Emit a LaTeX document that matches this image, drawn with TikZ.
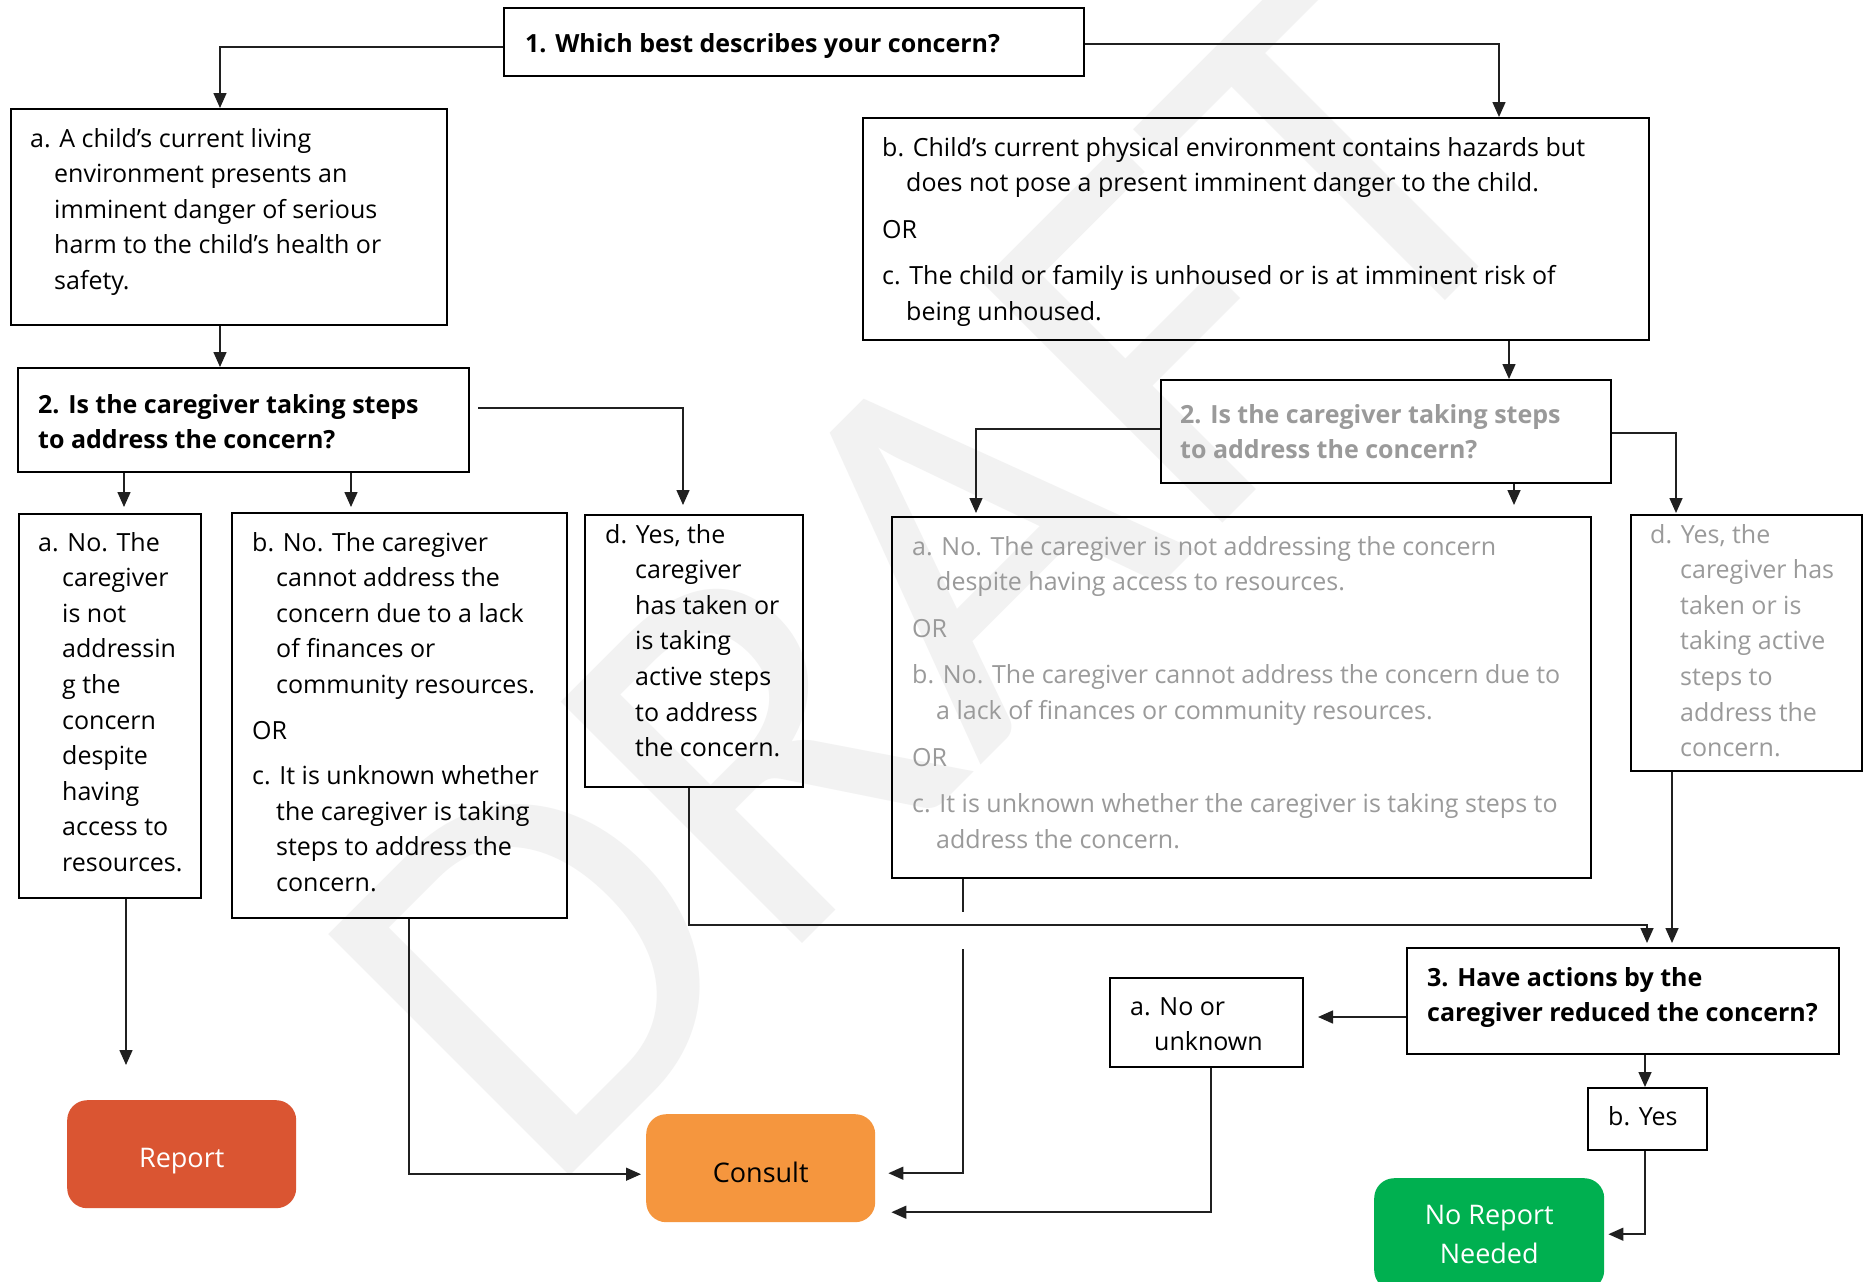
\documentclass[tikz,border=0pt]{standalone}
\usepackage{fontspec}
\setmainfont{Open Sans}
\newfontfamily\wmfont{Carlito}
\usetikzlibrary{arrows.meta}
\definecolor{wmgray}{HTML}{F2F2F2}
\definecolor{fadetext}{HTML}{9A9A9A}
\definecolor{reportfill}{HTML}{DA5532}
\definecolor{consultfill}{HTML}{F5963E}
\definecolor{okfill}{HTML}{00B050}
\definecolor{linkgray}{HTML}{202020}
\newcommand\hng{\hspace*{24pt}}
\newcommand\hngw{\hspace*{30pt}}
\newcommand\bodyfont{\fontsize{25}{35.6}\selectfont}
\newcommand\outfont{\fontsize{27}{39}\selectfont}
\tikzset{
  box/.style={draw=black, line width=2pt, inner sep=0pt, anchor=north west},
  outbox/.style={rounded corners=20pt, inner sep=0pt, anchor=north west,
    minimum width=229pt, minimum height=108pt},
  outtxt/.style={inner sep=0pt, font=\outfont, align=center},
  txt/.style={anchor=north west, inner sep=0pt, align=left, font=\bodyfont},
  conn/.style={draw=linkgray, line width=1.5pt, -{Triangle[length=15pt,width=13pt]}},
}
\begin{document}
\begin{tikzpicture}[x=1pt, y=-1pt]
\useasboundingbox (0,0) rectangle (1866,1282);
\fill[white] (0,0) rectangle (1866,1282);
\clip (0,0) rectangle (1866,1282);

% watermark
\node[rotate=45, anchor=base west, inner sep=0pt, text=wmgray] (wm) at (544,1202)
  {\wmfont\fontsize{532}{532}\selectfont DRAFT};

% question and answer boxes
\node[box, minimum width=580pt, minimum height=68pt] (B1) at (503,7) {};
\node[box, minimum width=436pt, minimum height=216pt] (BA) at (10,108) {};
\node[box, minimum width=786pt, minimum height=222pt] (BBC) at (862,117) {};
\node[box, minimum width=451pt, minimum height=104pt] (B2L) at (17,367) {};
\node[box, minimum width=450pt, minimum height=103pt] (B2R) at (1160,379) {};
\node[box, minimum width=182pt, minimum height=384pt] (B3a) at (18,513) {};
\node[box, minimum width=335pt, minimum height=405pt] (B3b) at (231,512) {};
\node[box, minimum width=218pt, minimum height=272pt] (B3d) at (584,514) {};
\node[box, minimum width=699pt, minimum height=361pt] (GA) at (891,516) {};
\node[box, minimum width=231pt, minimum height=256pt] (GD) at (1630,514) {};
\node[box, minimum width=432pt, minimum height=106pt] (B3) at (1406,947) {};
\node[box, minimum width=193pt, minimum height=89pt] (NU) at (1109,977) {};
\node[box, minimum width=119pt, minimum height=62pt] (YES) at (1587,1087) {};

% outcomes
\node[outbox, fill=reportfill] (REP) at (67,1100) {};
\node[outbox, fill=consultfill] (CON) at (646,1114) {};
\node[outbox, fill=okfill, minimum width=230pt, minimum height=112pt] (NRN) at (1374,1178) {};
\node[outtxt, text=white] (tREP) at ([yshift=-7pt]REP.center) {Report};
\node[outtxt, text=black] (tCON) at ([yshift=-4pt]CON.center) {Consult};
\node[outtxt, text=white] (tNRN) at (NRN.center) {No Report\\Needed};

% texts
\node[txt, font=\bodyfont\bfseries] (tB1) at (525,27) {\strut 1. Which best describes your concern?};
\node[txt] (tBA) at (30,122) {\strut a. A child’s current living\\
  \hng environment presents an\\
  \hng imminent danger of serious\\
  \hng harm to the child’s health or\\
  \hng safety.};
\node[txt] (tBC) at (882,131) {\strut b. Child’s current physical environment contains hazards but\\
  \hng does not pose a present imminent danger to the child.\\[11pt]
  OR\\[11pt]
  c. The child or family is unhoused or is at imminent risk of\\
  \hng being unhoused.};
\node[txt, font=\bodyfont\bfseries] (tB2L) at (38,388) {\strut 2. Is the caregiver taking steps\\
  to address the concern?};
\node[txt, font=\bodyfont\bfseries, text=fadetext] (tB2R) at (1180,398) {\strut 2. Is the caregiver taking steps\\
  to address the concern?};
\node[txt] (tB3a) at (38,526) {\strut a. No. The\\
  \hng caregiver\\
  \hng is not\\
  \hng addressin\\
  \hng g the\\
  \hng concern\\
  \hng despite\\
  \hng having\\
  \hng access to\\
  \hng resources.};
\node[txt] (tB3b) at (252,526) {\strut b. No. The caregiver\\
  \hng cannot address the\\
  \hng concern due to a lack\\
  \hng of finances or\\
  \hng community resources.\\[10pt]
  OR\\[10pt]
  c. It is unknown whether\\
  \hng the caregiver is taking\\
  \hng steps to address the\\
  \hng concern.};
\node[txt] (tB3d) at (605,518) {\strut d. Yes, the\\
  \hngw caregiver\\
  \hngw has taken or\\
  \hngw is taking\\
  \hngw active steps\\
  \hngw to address\\
  \hngw the concern.};
\node[txt, text=fadetext] (tGA) at (912,530) {\strut a. No. The caregiver is not addressing the concern\\
  \hng despite having access to resources.\\[11pt]
  OR\\[11pt]
  b. No. The caregiver cannot address the concern due to\\
  \hng a lack of finances or community resources.\\[11pt]
  OR\\[11pt]
  c. It is unknown whether the caregiver is taking steps to\\
  \hng address the concern.};
\node[txt, text=fadetext] (tGD) at (1650,518) {\strut d. Yes, the\\
  \hngw caregiver has\\
  \hngw taken or is\\
  \hngw taking active\\
  \hngw steps to\\
  \hngw address the\\
  \hngw concern.};
\node[txt, font=\bodyfont\bfseries] (tB3) at (1427,961) {\strut 3. Have actions by the\\
  caregiver reduced the concern?};
\node[txt] (tNU) at (1130,990) {\strut a. No or\\
  \hng unknown};
\node[txt] (tYES) at (1608,1100) {\strut b. Yes};

% connectors
\draw[conn] ([yshift=-5pt]B1.west) -| ([xshift=-9pt]BA.north);
\draw[conn] ([yshift=-2pt]B1.east) -| ([xshift=243pt]BBC.north);
\draw[conn] ([xshift=-9pt]BA.south) -- ([xshift=-9pt]BA.south |- B2L.north);
\draw[conn] ([xshift=253pt]BBC.south) -- ([xshift=253pt]BBC.south |- B2R.north);
\draw[conn, shorten >=6pt] ([xshift=-119.5pt]B2L.south) -- ([xshift=-119.5pt]B2L.south |- B3a.north);
\draw[conn, shorten >=5pt] ([xshift=107.5pt]B2L.south) -- ([xshift=107.5pt]B2L.south |- B3b.north);
\draw[conn, shorten >=9pt] ([xshift=8pt,yshift=12pt]B2L.east) -| ([xshift=-11pt]B3d.north);
\draw[conn, shorten >=3pt] ([yshift=2.5pt]B2R.west) -| ([xshift=-265.5pt]GA.north);
\draw[conn, shorten >=11pt] ([xshift=128pt]B2R.south) -- ([xshift=128pt]B2R.south |- GA.north);
\draw[conn, shorten >=1pt] ([yshift=-1.5pt]B2R.east) -| ([xshift=-70.5pt]GD.north);
\draw[conn, shorten >=35pt] ([xshift=16pt]B3a.south) -- ([xshift=16pt]B3a.south |- REP.north);
\draw[conn, shorten >=5pt] ([xshift=9.5pt]B3b.south) |- ([yshift=-6pt]CON.west);
\draw[conn, shorten >=4pt] ([xshift=-5pt]B3d.south) |- ([xshift=24pt,yshift=22pt]B3.north) -- ([xshift=24pt]B3.north);
\draw[conn, shorten >=4pt] ([xshift=-74.5pt]GD.south) -- ([xshift=-74.5pt]GD.south |- B3.north);
\draw[conn, shorten >=13pt] ([xshift=-278.5pt]GA.south) -- ++(0,33) ++(0,37) |- ([yshift=-5pt]CON.east);
\draw[conn, shorten >=14pt] ([yshift=-16pt]B3.west) -- ([yshift=-16pt]B3.west -| NU.east);
\draw[conn, shorten >=16pt] ([xshift=4.5pt]NU.south) |- ([yshift=-44pt]CON.east);
\draw[conn] ([xshift=22pt]B3.south) -- ([xshift=22pt]B3.south |- YES.north);
\draw[conn, shorten >=4pt] ([xshift=-2.5pt]YES.south) |- (NRN.east);
\end{tikzpicture}
\end{document}
